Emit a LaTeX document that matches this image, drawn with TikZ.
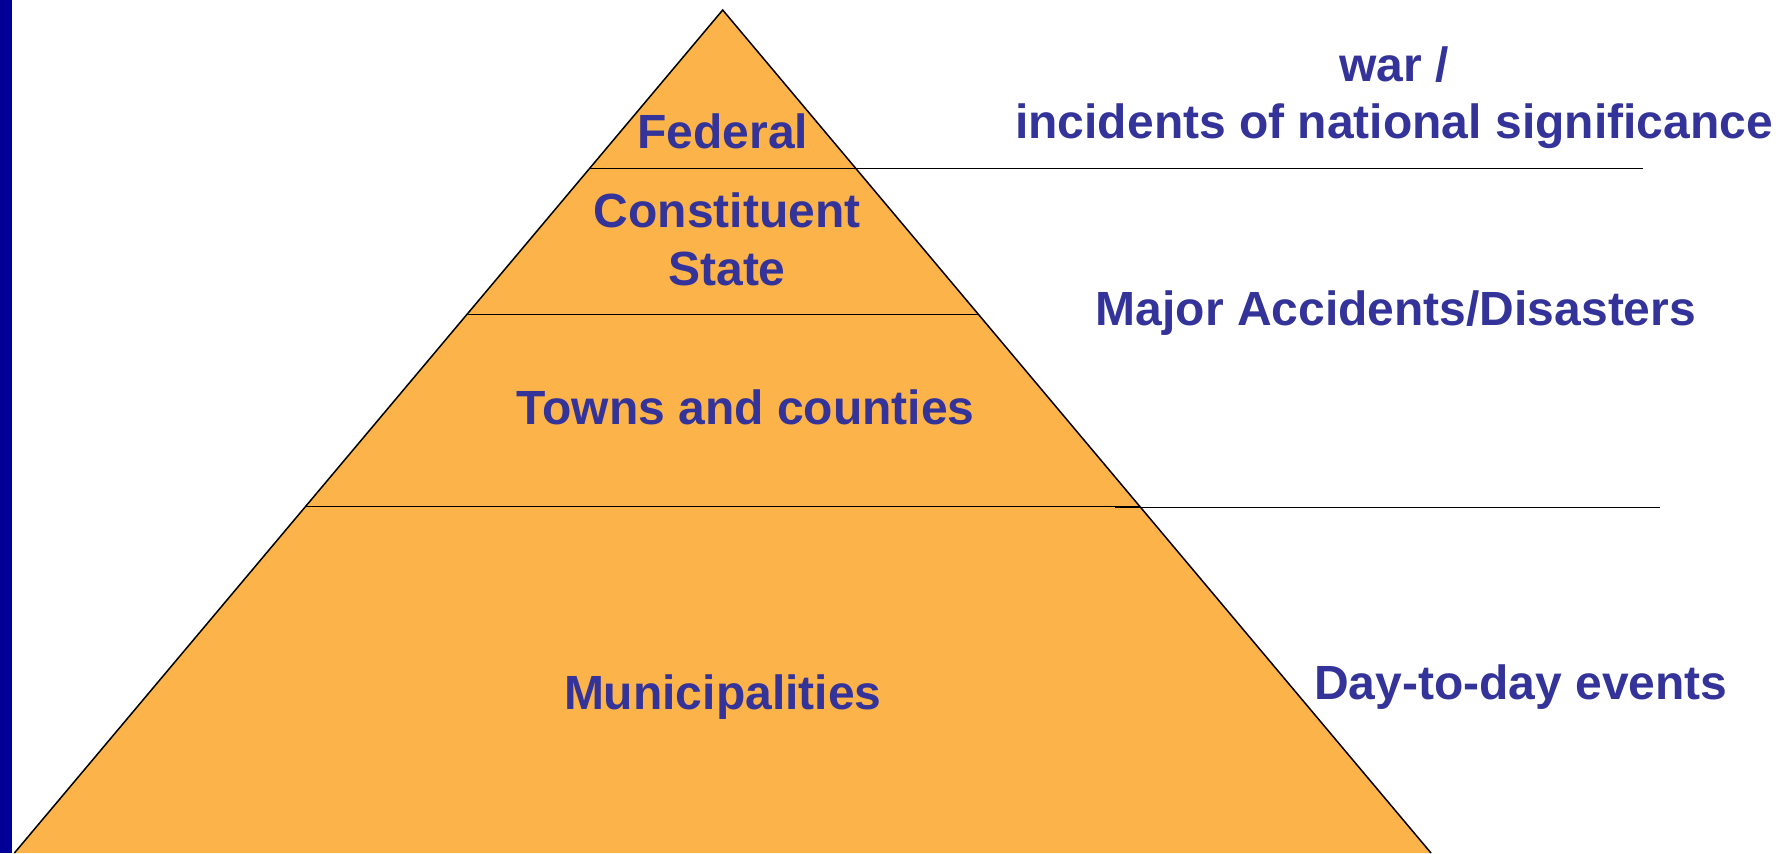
\documentclass[tikz,border=0pt]{standalone}
\usepackage{fontspec}
\setmainfont{Liberation Sans}
\usetikzlibrary{positioning}
\definecolor{tierfill}{RGB}{252,179,74}
\definecolor{tiertext}{RGB}{51,51,153}
\definecolor{sidebar}{RGB}{0,0,153}
\tikzstyle{tier} = [text=tiertext, font=\fontsize{24}{29}\selectfont\bfseries,
                    inner sep=0pt, anchor=base]
\tikzstyle{event} = [tier]
\tikzstyle{divider} = [draw, line width=0.75pt]
\begin{document}
\begin{tikzpicture}[x=0.5pt, y=-0.5pt]
        \useasboundingbox (0,0) rectangle (1789,853);
        \fill [sidebar] (0,0) rectangle (12,853);
        % pyramid corners
        \coordinate (apex) at (722.7,10);
        \coordinate (bl) at (14.4,853);
        \coordinate (br) at (1431,853);
        \fill [tierfill] (apex) -- (bl) -- (br) -- cycle;
        \draw [line width=0.75pt] (bl) -- (apex) -- (br);

        % tier boundaries
        \coordinate (fedL) at (590,168.6);
        \coordinate (fedR) at (1643,168.6);
        \coordinate (staL) at (467.8,314.4);
        \coordinate (staR) at (978.6,314.4);
        \coordinate (towL) at (306,506.5);
        \coordinate (towR) at (1139,506.5);
        \coordinate (extL) at (1115,507.5);
        \coordinate (extR) at (1660,507.5);
        \draw [divider] (fedL) -- (fedR);
        \draw [divider] (staL) -- (staR);
        \draw [divider] (towL) -- (towR);
        \draw [divider] (extL) -- (extR);

        % levels
        \node [tier] (federal) at (722.7,148) {Federal};
        \node [tier] (constituent) at (727,227.4) {Constituent};
        \node [tier] (state) at (727,285.4) {State};
        \node [tier] (towns) at (745.5,424) {Towns and counties};
        \node [tier] (muni) at (722.7,709) {Municipalities};

        % events
        \node [event] (war) at (1394,81.6) {war /};
        \node [event] (national) at (1394,138.7) {incidents of national significance};
        \node [event] (major) at (1396,325) {Major Accidents/Disasters};
        \node [event] (daily) at (1521,699) {Day-to-day events};
    \end{tikzpicture}
\end{document}
